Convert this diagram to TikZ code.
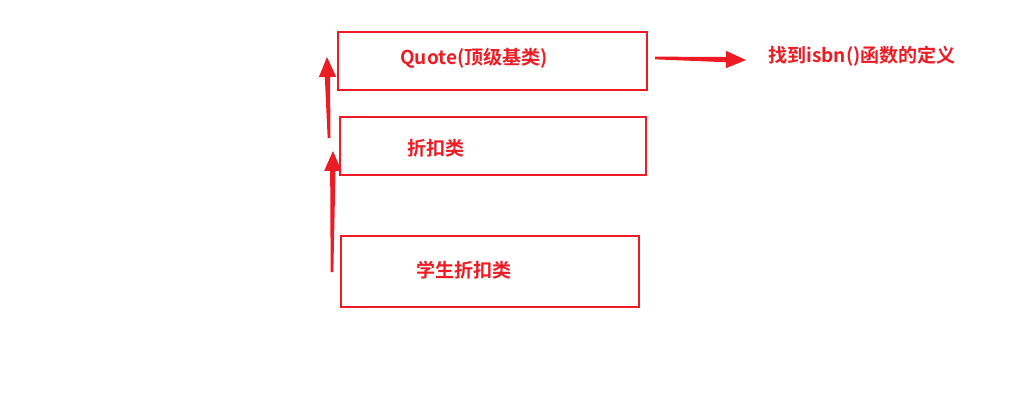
\documentclass[tikz,border=0pt]{standalone}
\usepackage{fontspec}
\newfontfamily\cjk{Noto Sans CJK SC}[BoldFont={* Bold}]
\usetikzlibrary{calc}
\definecolor{dred}{HTML}{ED1C24}
\tikzset{
  classbox/.style={draw=dred, line width=1.5pt, inner sep=0pt},
  lbl/.style={text=dred, font=\cjk\bfseries\fontsize{14.3pt}{16pt}\selectfont, anchor=west, inner sep=0pt},
}
\newcommand{\taparrow}[2]{%
  \coordinate (h) at ($(#2)!15pt!(#1)$);
  \fill[dred] ($(#1)!1pt!90:(#2)$) -- ($(h)!2pt!-90:(#1)$) -- ($(h)!6.5pt!-90:(#1)$) -- (#2)
     -- ($(h)!6.5pt!90:(#1)$) -- ($(h)!2pt!90:(#1)$) -- ($(#1)!1pt!-90:(#2)$) -- cycle;}
\begin{document}
\begin{tikzpicture}[x=0.75pt, y=-0.75pt]
\useasboundingbox[fill=white] (0,0) rectangle (1017,405);
\node[classbox, minimum width=309*0.75pt, minimum height=58*0.75pt] (q) at (492.5,61) {};
\node[classbox, minimum width=306*0.75pt, minimum height=58*0.75pt] (d) at (493,146) {};
\node[classbox, minimum width=298*0.75pt, minimum height=71*0.75pt] (s) at (490,271.5) {};
\node[lbl] (qt) at (400,58) {Quote(顶级基类)};
\node[lbl] (dt) at (407,148) {折扣类};
\node[lbl] (st) at (416,270) {学生折扣类};
\node[lbl] (it) at (768,56) {找到isbn()函数的定义};
\coordinate (a1) at (329,138); \coordinate (b1) at (327,57);
\coordinate (a2) at (332,272); \coordinate (b2) at (333,151);
\coordinate (a3) at (655,58);  \coordinate (b3) at (746,60);
\taparrow{a1}{b1}
\taparrow{a2}{b2}
\taparrow{a3}{b3}
\end{tikzpicture}
\end{document}
